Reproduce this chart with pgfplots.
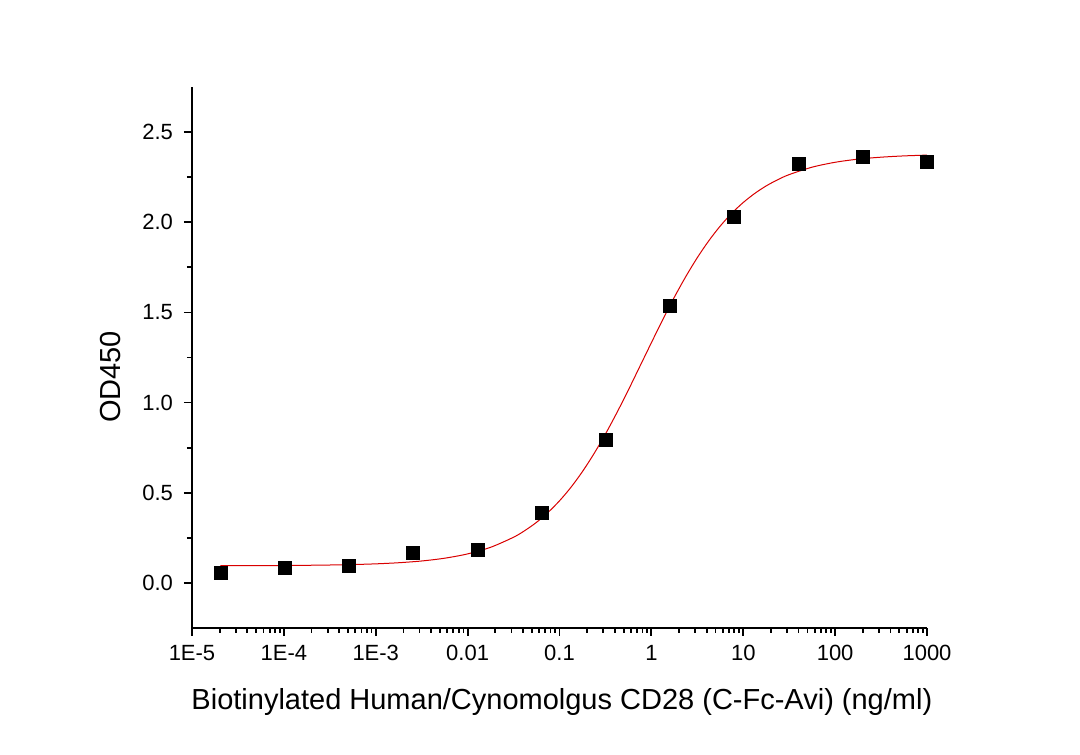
\documentclass[border=0pt]{standalone}
\usepackage{fontspec}
\setmainfont{Liberation Sans}
\usepackage{pgfplots}
\pgfplotsset{compat=1.18}
\begin{document}
\begin{tikzpicture}[x=0.5pt,y=0.5pt]
\path[use as bounding box] (0,0) rectangle (1080,754);
\begin{axis}[
  at={(96pt,63pt)}, anchor=south west,
  scale only axis, width=367.5pt, height=270.5pt,
  xmode=log, xmin=1e-5, xmax=1000,
  ymin=-0.25, ymax=2.75,
  axis x line*=bottom, axis y line*=left,
  axis line style={line width=1pt},
  tick align=outside,
  major tick length=4pt, minor tick length=2.5pt,
  every tick/.style={black, line width=0.9pt},
  xtick={1e-5,1e-4,1e-3,1e-2,1e-1,1,10,100,1000},
  xticklabels={1E-5,1E-4,1E-3,0.01,0.1,1,10,100,1000},
  ytick={0,0.5,1,1.5,2,2.5},
  minor y tick num=1,
  y tick label style={/pgf/number format/fixed, /pgf/number format/fixed zerofill, /pgf/number format/precision=1, xshift=-2pt},
  /pgf/number format/assume math mode=true,
  tick label style={font=\fontsize{11pt}{13pt}\selectfont},
  x tick label style={yshift=-1pt},
  xlabel={Biotinylated Human/Cynomolgus CD28 (C-Fc-Avi) (ng/ml)},
  ylabel={OD450},
  label style={font=\fontsize{14.5pt}{17pt}\selectfont},
  xlabel style={yshift=-7pt, xshift=1.2pt},
  ylabel style={yshift=4pt, xshift=-9.75pt},
  clip=false,
]
\addplot[red!85!black, line width=0.5pt, smooth] coordinates {
(2.042e-5,0.0955) (3.162e-5,0.0957) (5.623e-5,0.0961) (1e-4,0.0967)
(1.778e-4,0.0977) (3.162e-4,0.0993) (5.623e-4,0.1018) (1e-3,0.1057)
(1.778e-3,0.1119) (3.162e-3,0.1216) (5.623e-3,0.1370) (1e-2,0.1609)
(1.778e-2,0.1975) (3.162e-2,0.2534) (4.217e-2,0.2910) (5.623e-2,0.3361)
(7.499e-2,0.3908) (0.1,0.4552) (0.13335,0.5305) (0.17783,0.6176)
(0.23714,0.7163) (0.31623,0.8255) (0.4217,0.9443) (0.56234,1.0702)
(0.74989,1.2009) (1,1.3319) (1.3335,1.4608) (1.7783,1.5844)
(2.3714,1.6991) (3.1623,1.8037) (4.217,1.8972) (5.6234,1.9792)
(7.4989,2.0498) (10,2.1095) (13.335,2.1597) (17.783,2.2016)
(23.714,2.2358) (31.623,2.2642) (56.234,2.3055) (100,2.3325)
(177.83,2.3499) (316.23,2.3608) (562.34,2.3679) (1000,2.3723)
};
\addplot[only marks, mark=square*, mark size=3.25pt, black] coordinates {
(2.048e-5,0.055) (1.024e-4,0.085) (5.12e-4,0.095) (2.56e-3,0.165)
(0.0128,0.185) (0.064,0.39) (0.32,0.794) (1.6,1.535)
(8,2.03) (40,2.324) (200,2.361) (1000,2.337)
};
\end{axis}
\end{tikzpicture}
\end{document}
